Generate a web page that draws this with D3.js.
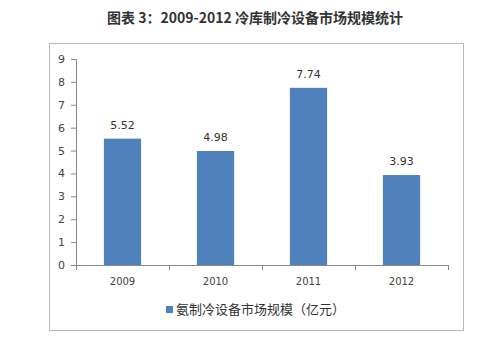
<!DOCTYPE html>
<html>
<head>
<meta charset="UTF-8">
<script src="https://cdnjs.cloudflare.com/ajax/libs/d3/7.8.5/d3.min.js"></script>
<style>
  body { margin: 0; background: #fff; }
  text { font-family: "Noto Sans CJK SC", "DejaVu Sans", sans-serif; }
</style>
</head>
<body>
<div id="chart"></div>
<script>
var years = ["2009", "2010", "2011", "2012"];
var values = [5.52, 4.98, 7.74, 3.93];
var yTicks = [0, 1, 2, 3, 4, 5, 6, 7, 8, 9];
var title = "图表 3：2009-2012 冷库制冷设备市场规模统计";
var legendLabel = "氨制冷设备市场规模（亿元）";

var width = 500, height = 359;
var barColor = "#4f81bd";

var svg = d3.select("#chart").append("svg")
  .attr("width", width)
  .attr("height", height);

// title
svg.append("text")
  .attr("x", 255)
  .attr("y", 23)
  .attr("text-anchor", "middle")
  .style("font-size", "14px")
  .style("font-weight", "bold")
  .attr("fill", "#333")
  .text(title);

// frame
svg.append("rect")
  .attr("x", 49.5).attr("y", 43.5)
  .attr("width", 414).attr("height", 287)
  .attr("fill", "#fff")
  .attr("stroke", "#b8b8b8");

var x = d3.scaleBand().domain(years).range([76, 448]).paddingInner(0.6).paddingOuter(0.3);
var y = d3.scaleLinear().domain([0, 9]).range([265, 59]);

// y axis
var yAxis = svg.append("g")
  .attr("transform", "translate(76,0)")
  .call(d3.axisLeft(y).tickValues(yTicks).tickSize(5).tickPadding(6));
yAxis.select(".domain").attr("stroke", "#888").attr("d", "M-5,59.5H0.5V265.5");
yAxis.selectAll(".tick line").attr("stroke", "#888");
yAxis.selectAll(".tick text").style("font-size", "11px").attr("fill", "#444")
  .style("font-family", "'DejaVu Sans', sans-serif");

// x axis
var xAxis = svg.append("g")
  .attr("transform", "translate(0,265)")
  .call(d3.axisBottom(x).tickSize(0).tickPadding(13));
xAxis.select(".domain").attr("stroke", "#888").attr("d", "M76,0.5H448.5");
xAxis.selectAll(".tick text").style("font-size", "10px").attr("fill", "#444")
  .style("font-family", "'DejaVu Sans', sans-serif");
xAxis.selectAll(".sep").data(d3.range(years.length + 1)).enter()
  .append("line")
  .attr("x1", function(i) { return 76 + i * (372 / years.length) + 0.5; })
  .attr("x2", function(i) { return 76 + i * (372 / years.length) + 0.5; })
  .attr("y1", 0).attr("y2", 5)
  .attr("stroke", "#888");

// bars
svg.selectAll(".bar").data(values).enter()
  .append("rect")
  .attr("x", function(d, i) { return x(years[i]); })
  .attr("y", function(d) { return y(d); })
  .attr("width", x.bandwidth())
  .attr("height", function(d) { return y(0) - y(d); })
  .attr("fill", barColor);

// value labels
svg.selectAll(".val").data(values).enter()
  .append("text")
  .attr("x", function(d, i) { return x(years[i]) + x.bandwidth() / 2; })
  .attr("y", function(d) { return y(d) - 10; })
  .attr("text-anchor", "middle")
  .style("font-size", "11px")
  .style("font-family", "'DejaVu Sans', sans-serif")
  .attr("fill", "#333")
  .text(function(d) { return d.toFixed(2); });

// legend
svg.append("rect")
  .attr("x", 166).attr("y", 306)
  .attr("width", 7).attr("height", 7)
  .attr("fill", barColor);
svg.append("text")
  .attr("x", 176).attr("y", 314)
  .style("font-size", "13px")
  .attr("fill", "#333")
  .text(legendLabel);
</script>
</body>
</html>
